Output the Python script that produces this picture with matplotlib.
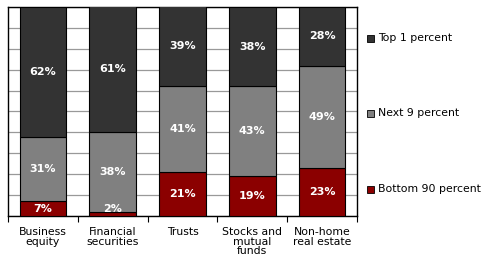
import numpy as np
import matplotlib
matplotlib.use("Agg")
import matplotlib.pyplot as plt
from matplotlib.patches import Rectangle

categories = ["Business\nequity", "Financial\nsecurities", "Trusts",
              "Stocks and\nmutual\nfunds", "Non-home\nreal estate"]
bottom90 = [7, 2, 21, 19, 23]
next9 = [31, 38, 41, 43, 49]
top1 = [62, 61, 39, 38, 28]

series = [("Bottom 90 percent", bottom90, "#8b0000"),
          ("Next 9 percent", next9, "#808080"),
          ("Top 1 percent", top1, "#333333")]

fig = plt.figure(figsize=(4.9, 2.6), dpi=100)
ax = fig.add_axes([8 / 490, 44 / 260, 349 / 490, 209 / 260])

x = np.arange(len(categories))
base = np.zeros(len(categories))
for name, vals, col in series:
    vals = np.array(vals, dtype=float)
    ax.bar(x, vals, bottom=base, width=0.67, color=col, edgecolor="black",
           linewidth=0.8, zorder=3, clip_on=True)
    for xi, b, v in zip(x, base, vals):
        # tiny segments get their label lifted a bit
        ymid = max(b + v / 2, 3.5)
        ax.text(xi, ymid, f"{int(v)}%", ha="center", va="center", color="white",
                fontsize=8, fontweight="bold", zorder=4, clip_on=True)
    base += vals

ax.set_xlim(-0.5, len(categories) - 0.5)
ax.set_ylim(0, 100)
ax.set_yticks(np.arange(0, 101, 10))
ax.yaxis.grid(True, color="#999999", linewidth=0.9, zorder=0)
ax.tick_params(axis="y", left=False, labelleft=False)
ax.set_xticks(x)
ax.set_xticklabels(categories, fontsize=7.8, linespacing=0.95)
ax.tick_params(axis="x", which="major", length=0, pad=8)
ax.set_xticks(np.arange(-0.5, len(categories), 1.0), minor=True)
ax.tick_params(axis="x", which="minor", length=4, width=0.8, direction="out")
for sp in ax.spines.values():
    sp.set_linewidth(1.0)
    sp.set_color("black")

# legend down the right side
leg_y = [38, 113, 189]
for (name, vals, col), yy in zip(series[::-1], leg_y):
    fy = 1 - yy / 260
    fig.patches.append(Rectangle((367 / 490, fy - 3.5 / 260), 7 / 490, 7 / 260,
                                 transform=fig.transFigure, facecolor=col,
                                 edgecolor="black", linewidth=0.6))
    fig.text(378 / 490, fy, name, fontsize=7.8, va="center", ha="left")

fig.savefig("out.png", dpi=100)
